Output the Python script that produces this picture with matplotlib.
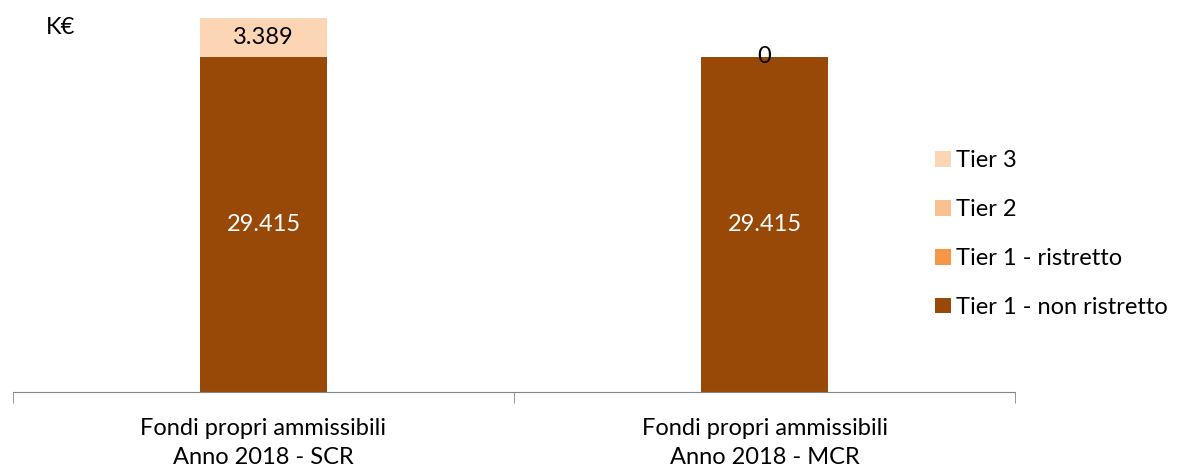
import matplotlib.pyplot as plt
import numpy as np

plt.rcParams['font.family'] = ['Lato', 'DejaVu Sans']

categories = ['Fondi propri ammissibili\nAnno 2018 - SCR',
              'Fondi propri ammissibili\nAnno 2018 - MCR']
tier1_nr = [29.415, 29.415]
tier1_r = [0, 0]
tier2 = [0, 0]
tier3 = [3.389, 0]

series = [('Tier 1 - non ristretto', tier1_nr, '#984807'),
          ('Tier 1 - ristretto', tier1_r, '#F79646'),
          ('Tier 2', tier2, '#FAC090'),
          ('Tier 3', tier3, '#FCD5B5')]

FS = 17


def fmt(v):
    # values in K€ with the dot as thousands separator
    return f'{v:.3f}'.rstrip('0').rstrip('.') if v else '0'


def main():
    fig = plt.figure(figsize=(11.78, 4.70), dpi=100)
    ax = fig.add_axes([13 / 1178, 1 - 392 / 470, 1002 / 1178, 392 / 470])
    x = np.arange(len(categories))
    bottom = np.zeros(len(categories))
    handles = []
    for name, vals, col in series:
        vals = np.array(vals, dtype=float)
        b = ax.bar(x, vals, 0.252, bottom=bottom, color=col, label=name)
        handles.append(b)
        if name == 'Tier 1 - non ristretto':
            for xi, v, b0 in zip(x, vals, bottom):
                ax.text(xi, b0 + v / 2, fmt(v), ha='center', va='center',
                        color='white', fontsize=FS)
        if name == 'Tier 3':
            for xi, v, b0 in zip(x, vals, bottom):
                ax.text(xi, b0 + v / 2, fmt(v), ha='center', va='center',
                        color='black', fontsize=FS)
        bottom += vals

    ax.set_xlim(-0.5, 1.5)
    ax.set_ylim(0, 392 / 11.39)
    for s in ['top', 'right', 'left']:
        ax.spines[s].set_visible(False)
    ax.spines['bottom'].set_color('#868686')
    ax.set_yticks([])
    ax.set_xticks(x)
    ax.set_xticklabels(categories, fontsize=FS, linespacing=1.45)
    ax.tick_params(axis='x', which='major', length=0, pad=19)
    ax.set_xticks([-0.5, 0.5, 1.5], minor=True)
    ax.tick_params(axis='x', which='minor', length=8, color='#868686')

    fig.text(46 / 1178, 1 - 28 / 470, 'K€', fontsize=FS, va='center')

    ax.legend(handles[::-1], [h.get_label() for h in handles[::-1]],
              loc='upper left', bbox_to_anchor=(914 / 1178, 1 - 129 / 470),
              bbox_transform=fig.transFigure, frameon=False, fontsize=FS,
              handlelength=0.65, handleheight=0.65, handletextpad=0.25,
              labelspacing=1.18)
    fig.savefig('out.png')


if __name__ == "__main__":
    main()
